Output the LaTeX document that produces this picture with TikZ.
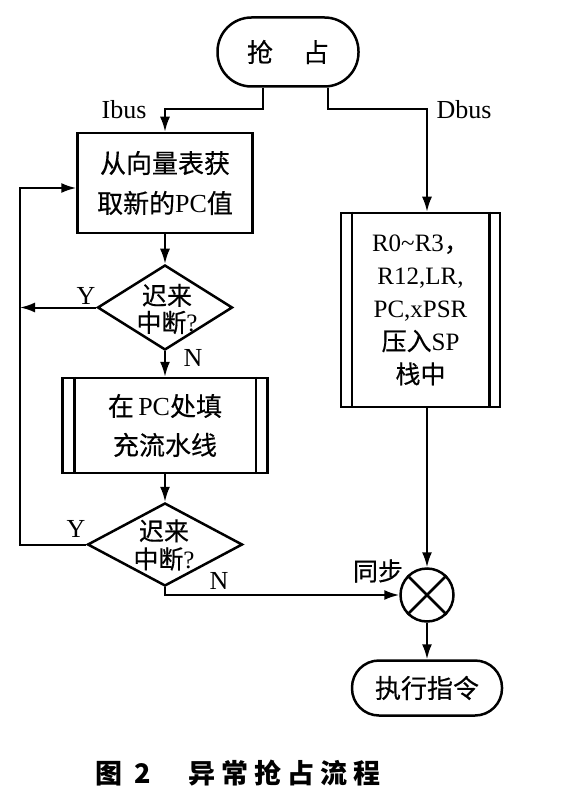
\documentclass[tikz,border=0pt]{standalone}
\usepackage{fontspec}
\setmainfont{Liberation Serif}
\newfontfamily\cjk{Noto Sans CJK SC}[FakeBold=0.4]
\newfontfamily\cjkcap{Noto Sans CJK SC}
\usetikzlibrary{arrows.meta,calc,shapes.geometric}
\newcommand\zh[1]{{\cjk #1}}
\begin{document}
\begin{tikzpicture}[x=1pt,y=-1pt,
  every node/.style={font=\fontsize{25}{30}\selectfont, inner sep=0pt},
  shp/.style={draw, line width=2.5pt},
  conn/.style={line width=2pt},
  arr/.style={conn, -{Latex[length=15pt,width=10pt]}},
  lbl/.style={font=\fontsize{26}{30}\selectfont},
  ]
\useasboundingbox (0,0) rectangle (562,799);
% nodes
\node[shp, rectangle, rounded corners=34pt, minimum width=141pt, minimum height=69pt, font=\fontsize{26}{30}\selectfont] (start) at (288,52) {\zh{抢\hspace{30pt}占}};
\node[shp, rectangle, minimum width=175pt, minimum height=100pt, align=center, font=\fontsize{26}{40}\selectfont] (box1) at (165,183) {\zh{从向量表获}\\\zh{取新的}PC\zh{值}};
\node[shp, rectangle, minimum width=159pt, minimum height=194pt, align=center, font=\fontsize{25}{33}\selectfont] (rbox) at (420.5,310) {R0\textasciitilde R3\zh{，}\\R12,LR,\\PC,xPSR\\\zh{压入}SP\\\zh{栈中}};
\draw[shp] ([xshift=12pt]rbox.north west) -- ([xshift=12pt]rbox.south west);
\draw[shp] ([xshift=-12pt]rbox.north east) -- ([xshift=-12pt]rbox.south east);
\node[shp, diamond, minimum width=135pt, minimum height=85pt] (d1) at (165,307.5) {};
\node[align=center, font=\fontsize{25}{27}\selectfont] (d1t) at (167,309) {\zh{迟来}\\\zh{中断}?};
\node[shp, rectangle, minimum width=205pt, minimum height=95pt, align=center, font=\fontsize{26}{39}\selectfont] (box2) at (165,425.5) {\zh{在}\,PC\zh{处填}\\\zh{充流水线}};
\draw[shp] ([xshift=13pt]box2.north west) -- ([xshift=13pt]box2.south west);
\draw[shp] ([xshift=-13pt]box2.north east) -- ([xshift=-13pt]box2.south east);
\node[shp, diamond, minimum width=155pt, minimum height=83pt] (d2) at (165,544.5) {};
\node[align=center, font=\fontsize{25}{28}\selectfont] (d2t) at (164,545) {\zh{迟来}\\\zh{中断}?};
\node[shp, circle, minimum size=53pt] (sync) at (427,595) {};
\draw[shp] (sync.north west) -- (sync.south east);
\draw[shp] (sync.north east) -- (sync.south west);
\node[shp, rectangle, rounded corners=27pt, minimum width=150pt, minimum height=55pt, font=\fontsize{26}{30}\selectfont] (end) at (427,688) {\zh{执行指令}};
\coordinate (lp) at (20,188);
% labels
\node[lbl] (ibus) at (124,110) {Ibus};
\node[lbl] (dbus) at (464,110) {Dbus};
\node[lbl] (y1) at (86,296) {Y};
\node[lbl] (n1) at (193,358) {N};
\node[lbl] (y2) at (76,529) {Y};
\node[lbl] (n2) at (219,581) {N};
\node[font=\fontsize{25}{30}\selectfont] (tb) at (378,571) {\zh{同步}};
% connectors
\draw[arr] ([xshift=-25pt]start.south) -- ++(0,21) -| (box1.north);
\draw[arr] ([xshift=40pt]start.south) -- ++(0,21) -| (sync.north |- rbox.north);
\draw[arr] (box1.south) -- (d1.north);
\draw[arr] (d1.south) -- (box2.north);
\draw[arr] (box2.south) -- (d2.north);
\draw[arr] (d1.west) -- (d1.west -| lp);
\draw[arr] (d2.west) -| (lp) -- (lp -| box1.west);
\draw[arr] (d2.south) |- (sync.west);
\draw[arr] (sync.north |- rbox.south) -- (sync.north);
\draw[arr] (sync.south) -- (end.north);
% caption
\node[anchor=west, font=\fontsize{27}{30}\selectfont\cjkcap\bfseries] (cap) at (95,773) {图\hspace{12pt}2\hspace{38pt}异\hspace{6pt}常\hspace{6pt}抢\hspace{6pt}占\hspace{6pt}流\hspace{6pt}程};
\end{tikzpicture}
\end{document}
